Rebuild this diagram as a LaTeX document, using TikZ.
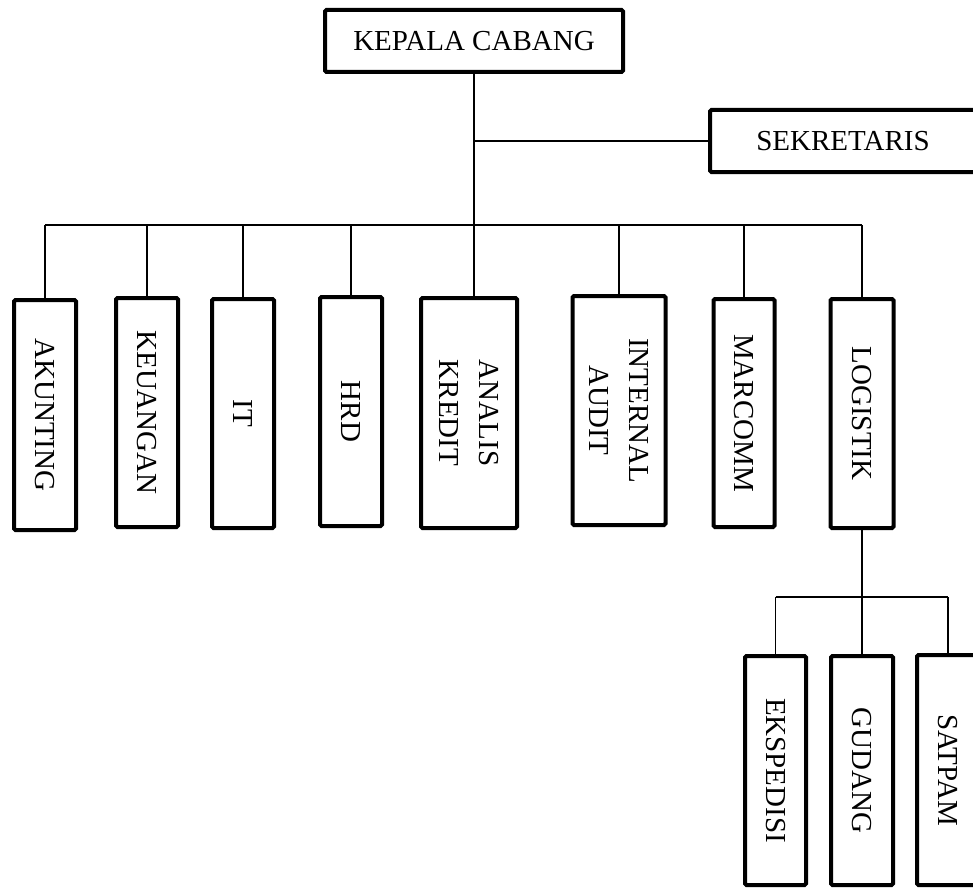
\documentclass[tikz,border=0pt]{standalone}
\usepackage{fontspec}
\setmainfont{Liberation Serif}
\begin{document}
\begin{tikzpicture}[x=1pt,y=-1pt,
  box/.style={draw, line width=4pt, rounded corners=1.5pt, inner sep=0pt,
              font=\fontsize{29}{40}\selectfont, align=center},
  vbox/.style={box, rotate=-90},
  link/.style={line width=1.2pt},
  trunk/.style={line width=1.6pt}]
\path[use as bounding box] (0,0) rectangle (973,888);
\clip (0,0) rectangle (973,888);
% top
\node[box, minimum width=298pt, minimum height=62pt] (kc) at (474,41) {KEPALA CABANG};
\node[box, minimum width=266pt, minimum height=62pt] (sek) at (843,141) {SEKRETARIS};
% departments
\node[vbox, minimum width=230pt, minimum height=62pt] (akun) at (45,415) {AKUNTING};
\node[vbox, minimum width=229pt, minimum height=62pt] (keu) at (147,412.5) {KEUANGAN};
\node[vbox, minimum width=229pt, minimum height=62pt] (it) at (243,413.5) {IT};
\node[vbox, minimum width=229pt, minimum height=62pt] (hrd) at (351,411.5) {HRD};
\node[vbox, minimum width=230pt, minimum height=96pt] (ak) at (469,413) {ANALIS\\KREDIT};
\node[vbox, minimum width=229pt, minimum height=93pt] (ia) at (619,410.5) {INTERNAL\\AUDIT};
\node[vbox, minimum width=228pt, minimum height=61pt] (mc) at (744,413) {MARCOMM};
\node[vbox, minimum width=229pt, minimum height=63pt] (log) at (862,413.5) {LOGISTIK};
% logistics sub-units
\node[vbox, minimum width=229pt, minimum height=61pt] (eks) at (775.5,770.5) {EKSPEDISI};
\node[vbox, minimum width=229pt, minimum height=62pt] (gud) at (862,770.5) {GUDANG};
\node[vbox, minimum width=230pt, minimum height=62pt] (sat) at (948,770) {SATPAM};
% connectors
\coordinate (bus) at (0,225);
\coordinate (sub) at (0,597);
\draw[trunk] (kc.south) -- (kc.south |- ak.west);
\draw[link] (kc.south |- sek.west) -- (sek.west);
\draw[link] (akun.west |- bus) -- (log.west |- bus);
\foreach \n in {akun,keu,it,hrd,ia,mc,log}
  \draw[link] (\n.west) -- (\n.west |- bus);
\draw[link] (log.east) -- (gud.west);
\draw[link] (eks.west |- sub) -- (sat.west |- sub);
\draw[link] (eks.west) -- (eks.west |- sub);
\draw[link] (sat.west) -- (sat.west |- sub);
\end{tikzpicture}
\end{document}
